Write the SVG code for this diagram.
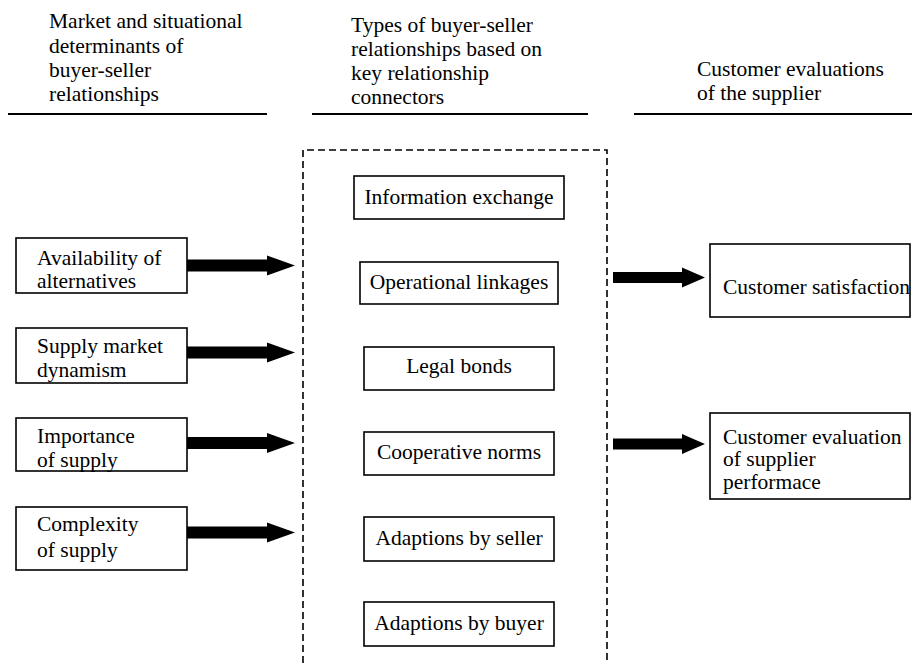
<svg xmlns="http://www.w3.org/2000/svg" width="912" height="663" viewBox="0 0 912 663">
  <style>
    text { font-family: "Liberation Serif", "Times New Roman", serif; font-size: 21.5px; fill: #000; }
    .mid { text-anchor: middle; }
    .box { fill: #fff; stroke: #000; stroke-width: 1.6; }
    .rule { stroke: #000; stroke-width: 2; }
    .frame { fill: none; stroke: #000; stroke-width: 1.6; stroke-dasharray: 7 4; }
    .arrow { fill: #000; }
  </style>
  <rect width="912" height="663" fill="#fff"/>

  <!-- column headings -->
  <g id="heading-determinants">
    <text x="49" y="28">Market and situational</text>
    <text x="49" y="53">determinants of</text>
    <text x="49" y="77">buyer-seller</text>
    <text x="49" y="101">relationships</text>
    <line class="rule" x1="8" y1="114" x2="267" y2="114"/>
  </g>
  <g id="heading-types">
    <text x="351" y="32">Types of buyer-seller</text>
    <text x="351" y="56">relationships based on</text>
    <text x="351" y="80">key relationship</text>
    <text x="351" y="104">connectors</text>
    <line class="rule" x1="312" y1="114" x2="588" y2="114"/>
  </g>
  <g id="heading-evaluations">
    <text x="697" y="76">Customer evaluations</text>
    <text x="697" y="100">of the supplier</text>
    <line class="rule" x1="634" y1="114" x2="912" y2="114"/>
  </g>

  <!-- dashed frame around the relationship connectors (open at the bottom) -->
  <path id="connector-frame" class="frame" d="M303,663 V150 H607 V663"/>

  <!-- determinants -->
  <g id="availability">
    <rect class="box" x="16" y="238" width="171" height="55"/>
    <text x="37" y="265">Availability of</text>
    <text x="37" y="288">alternatives</text>
  </g>
  <g id="dynamism">
    <rect class="box" x="16" y="328" width="171" height="55"/>
    <text x="37" y="353">Supply market</text>
    <text x="37" y="377">dynamism</text>
  </g>
  <g id="importance">
    <rect class="box" x="16" y="418" width="171" height="53"/>
    <text x="37" y="443">Importance</text>
    <text x="37" y="467">of supply</text>
  </g>
  <g id="complexity">
    <rect class="box" x="16" y="507" width="171" height="63"/>
    <text x="37" y="531">Complexity</text>
    <text x="37" y="557">of supply</text>
  </g>

  <!-- relationship connectors -->
  <g id="information-exchange">
    <rect class="box" x="354" y="176" width="210" height="43"/>
    <text class="mid" x="459" y="204">Information exchange</text>
  </g>
  <g id="operational-linkages">
    <rect class="box" x="360" y="262" width="198" height="42"/>
    <text class="mid" x="459" y="289">Operational linkages</text>
  </g>
  <g id="legal-bonds">
    <rect class="box" x="364" y="347" width="190" height="43"/>
    <text class="mid" x="459" y="373">Legal bonds</text>
  </g>
  <g id="cooperative-norms">
    <rect class="box" x="364" y="432" width="190" height="43"/>
    <text class="mid" x="459" y="459">Cooperative norms</text>
  </g>
  <g id="adaptions-seller">
    <rect class="box" x="364" y="517" width="190" height="44"/>
    <text class="mid" x="459" y="545">Adaptions by seller</text>
  </g>
  <g id="adaptions-buyer">
    <rect class="box" x="364" y="602" width="190" height="44"/>
    <text class="mid" x="459" y="630">Adaptions by buyer</text>
  </g>

  <!-- outcomes -->
  <g id="customer-satisfaction">
    <rect class="box" x="710" y="244" width="200" height="73"/>
    <text x="723" y="294">Customer satisfaction</text>
  </g>
  <g id="supplier-performance">
    <rect class="box" x="710" y="413" width="200" height="86"/>
    <text x="723" y="444">Customer evaluation</text>
    <text x="723" y="466">of supplier</text>
    <text x="723" y="489">performace</text>
  </g>

  <!-- block arrows -->
  <g id="connectors">
    <defs>
      <!-- block arrow pointing right, tip at origin -->
      <polygon id="block-left" points="-108,-6 -28,-6 -28,-10 0,0 -28,10 -28,6 -108,6"/>
      <polygon id="block-right" points="-92,-5.5 -23,-5.5 -23,-10 0,0 -23,10 -23,5.5 -92,5.5"/>
    </defs>
    <use href="#block-left" class="arrow" x="295" y="265.5"/>
    <use href="#block-left" class="arrow" x="295" y="352.5"/>
    <use href="#block-left" class="arrow" x="295" y="443"/>
    <use href="#block-left" class="arrow" x="295" y="532.5"/>
    <use href="#block-right" class="arrow" x="705" y="277.5"/>
    <use href="#block-right" class="arrow" x="705" y="444"/>
  </g>
</svg>
